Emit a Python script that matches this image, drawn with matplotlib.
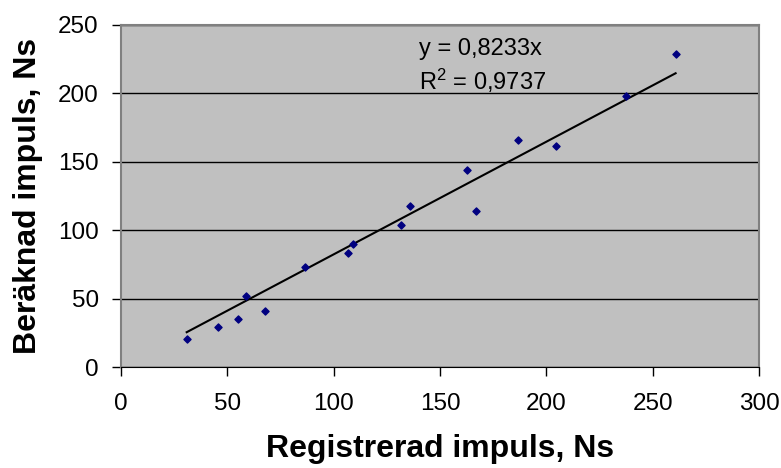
import matplotlib
matplotlib.use("Agg")
import matplotlib.pyplot as plt
import numpy as np

# Registrerad vs beräknad impuls (Ns)
registrerad = [30.9, 45.8, 54.8, 58.8, 67.9, 86.7, 106.7, 108.9, 131.6, 135.7,
               162.8, 166.8, 186.8, 204.7, 237.7, 260.8]
beraknad = [20.3, 29.1, 35.4, 51.8, 40.8, 73.2, 83.0, 89.6, 103.5, 117.6,
            143.8, 114.2, 166.0, 161.8, 198.0, 228.7]
slope = 0.8233
r2 = 0.9737

plt.rcParams['font.family'] = ['Liberation Sans', 'DejaVu Sans']

fig = plt.figure(figsize=(7.81, 4.68), dpi=100)
ax = fig.add_axes([0.1549, 0.2158, 0.8169, 0.7308])
ax.set_facecolor('#C0C0C0')

x = np.array(registrerad)
xs = np.array([x.min(), x.max()])
ax.plot(xs, slope * xs, color='black', lw=1.5, zorder=3)
ax.scatter(registrerad, beraknad, marker='D', s=13, color='#000080', zorder=4)

ax.set_xlim(0, 300)
ax.set_ylim(0, 250)
ax.set_xticks(np.arange(0, 301, 50))
ax.set_yticks(np.arange(0, 251, 50))
ax.yaxis.grid(True, color='black', lw=1)
ax.set_axisbelow(True)
ax.tick_params(axis='both', direction='out', length=6.5, width=1, labelsize=17.5,
               color='black')
ax.tick_params(axis='x', pad=12)
ax.tick_params(axis='y', pad=9.5)

for side in ['top', 'right', 'left']:
    ax.spines[side].set_color('#808080')
    ax.spines[side].set_linewidth(1.5)
ax.spines['bottom'].set_color('black')

ax.set_xlabel('Registrerad impuls, Ns', fontsize=23, fontweight='bold')
ax.set_ylabel('Beräknad impuls, Ns', fontsize=23, fontweight='bold')
ax.xaxis.set_label_coords(0.5, -0.196)
ax.yaxis.set_label_coords(-0.122, 0.5)

ax.text(140.1, 228.2, 'y = ' + f'{slope:.4f}'.replace('.', ',') + 'x',
        fontsize=17, va='baseline', ha='left')
ax.text(140.1, 202.6, '$\\mathregular{R^2}$ = ' + f'{r2:.4f}'.replace('.', ','),
        fontsize=17, va='baseline', ha='left')

fig.savefig('out.png', dpi=100)
